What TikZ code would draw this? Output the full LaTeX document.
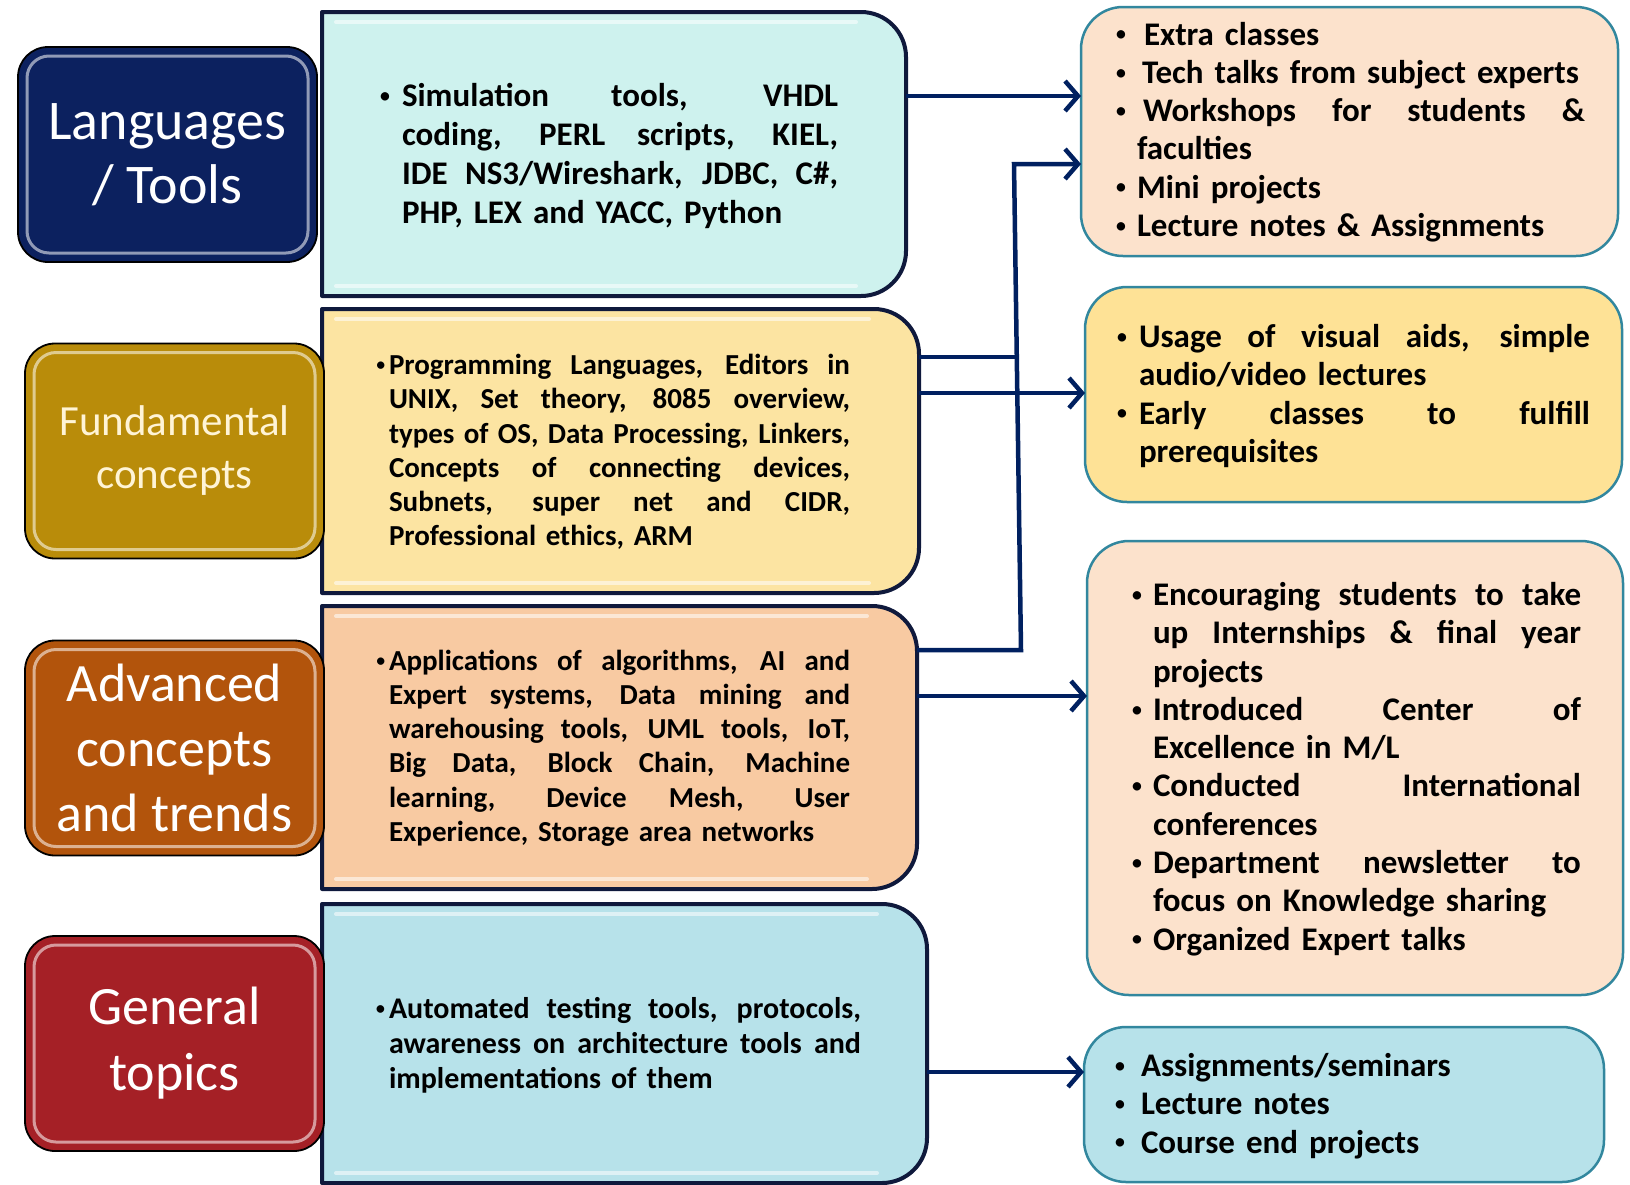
\documentclass[tikz,border=0pt]{standalone}
\usepackage{fontspec}
\setmainfont{Carlito}
\usetikzlibrary{arrows.meta,calc}
\definecolor{arrcol}{RGB}{0,32,96}
\definecolor{mbord}{RGB}{15,25,60}
\definecolor{mA}{RGB}{206,242,238}
\definecolor{mB}{RGB}{252,228,162}
\definecolor{mC}{RGB}{248,202,162}
\definecolor{mD}{RGB}{183,226,234}
\definecolor{rA}{RGB}{252,226,204}
\definecolor{rB}{RGB}{254,226,150}
\definecolor{rD}{RGB}{183,226,234}
\definecolor{rbord}{RGB}{50,135,158}
\definecolor{lA}{RGB}{12,33,95}
\definecolor{lB}{RGB}{185,140,10}
\definecolor{lC}{RGB}{178,84,12}
\definecolor{lD}{RGB}{165,32,38}
\definecolor{lBtext}{RGB}{255,244,214}
\newcommand{\jl}[1]{\leavevmode\hbox to \hsize{\spaceskip=0.25em plus 10em\relax #1}}
\newcommand{\dotb}{\raisebox{0.1em}{\scalebox{0.72}{\mdseries\textbullet}}}
\newcommand{\bul}[1]{\leavevmode\llap{\makebox[#1][l]{\dotb}}}
\newcommand{\hbul}{\leavevmode\llap{\dotb\hspace{3pt}}}
\newcommand{\MidShape}[2]{%
  \draw[mframe, fill=#2] (#1.north west) -- ([xshift=-45pt]#1.north east)
    arc[start angle=90,end angle=0,radius=45pt] -- ([yshift=45pt]#1.south east)
    arc[start angle=0,end angle=-90,radius=45pt] -- (#1.south west) -- cycle;
  \draw[gloss] ([shift={(14pt,-10pt)}]#1.north west) -- ([shift={(-50pt,-10pt)}]#1.north east);
  \draw[gloss] ([shift={(14pt,10pt)}]#1.south west) -- ([shift={(-50pt,10pt)}]#1.south east);}
\newcommand{\Ring}[1]{\draw[ring] ([shift={(9pt,-9pt)}]#1.north west) rectangle ([shift={(-9pt,9pt)}]#1.south east);}
\begin{document}
\begin{tikzpicture}[x=1pt,y=-1pt,
  every node/.style={inner sep=0pt, outer sep=0pt},
  mframe/.style={draw=mbord, line width=4pt, line join=round},
  gloss/.style={draw=white, opacity=0.55, line width=4pt, line cap=round},
  ring/.style={draw=white, opacity=0.55, line width=3pt, rounded corners=22pt},
  lbox/.style={draw=black, line width=1.8pt, rounded corners=30pt, minimum width=299pt, minimum height=215pt, align=center, text=white},
  rbox/.style={draw=rbord, line width=2.5pt, rounded corners=42pt},
  mtext/.style={align=left, font=\bfseries\fontsize{29}{34.3}\selectfont},
  rtext/.style={align=left, font=\bfseries\fontsize{33}{38.3}\selectfont},
  conn/.style={draw=arrcol, line width=4.5pt},
  arr/.style={conn, -{Straight Barb[length=13pt,width=30pt]}}]
\useasboundingbox (0,0) rectangle (1630,1184);

% middle boxes
\node[minimum width=584pt, minimum height=284pt] (M1) at (614,154) {};
\node[minimum width=597pt, minimum height=284pt] (M2) at (620.5,451) {};
\node[minimum width=595pt, minimum height=283pt] (M3) at (619.5,747.5) {};
\node[minimum width=605pt, minimum height=279pt] (M4) at (624.5,1043.5) {};
\MidShape{M1}{mA}
\MidShape{M2}{mB}
\MidShape{M3}{mC}
\MidShape{M4}{mD}

\node[mtext, text width=436pt, font=\bfseries\fontsize{33}{39}\selectfont] (M1t) at (620,156) {%
\jl{\bul{23pt}Simulation tools, VHDL}\\
\jl{coding, PERL scripts, KIEL,}\\
\jl{IDE NS3/Wireshark, JDBC, C\#,}\\
PHP, LEX and YACC, Python};

\node[mtext, text width=461pt] (M2t) at (619.5,452) {%
\jl{\hbul Programming Languages, Editors in}\\
\jl{UNIX, Set theory, 8085 overview,}\\
\jl{types of OS, Data Processing, Linkers,}\\
\jl{Concepts of connecting devices,}\\
\jl{Subnets, super net and CIDR,}\\
Professional ethics, ARM};

\node[mtext, text width=461pt] (M3t) at (619.5,748) {%
\jl{\hbul Applications of algorithms, AI and}\\
\jl{Expert systems, Data mining and}\\
\jl{warehousing tools, UML tools, IoT,}\\
\jl{Big Data, Block Chain, Machine}\\
\jl{learning, Device Mesh, User}\\
Experience, Storage area networks};

\node[mtext, text width=472pt, font=\bfseries\fontsize{30}{35}\selectfont] (M4t) at (625,1045) {%
\jl{\hbul Automated testing tools, protocols,}\\
\jl{awareness on architecture tools and}\\
implementations of them};

% left boxes
\node[lbox, fill=lA, font=\fontsize{56}{64}\selectfont] (L1) at (167.5,154.5) {Languages\\/ Tools};
\Ring{L1}
\node[lbox, fill=lB, text=lBtext, font=\fontsize{43}{53}\selectfont] (L2) at (174.5,451) {Fundamental\\concepts};
\Ring{L2}
\node[lbox, fill=lC, font=\fontsize{54}{65}\selectfont] (L3) at (174.5,748) {Advanced\\concepts\\and trends};
\Ring{L3}
\node[lbox, fill=lD, font=\fontsize{54}{66}\selectfont] (L4) at (174.5,1043.5) {General\\topics};
\Ring{L4}

% right boxes
\node[rbox, fill=rA, minimum width=537pt, minimum height=249pt] (R1) at (1349.5,131.5) {};
\node[rbox, fill=rB, minimum width=537pt, minimum height=215pt] (R2) at (1353.5,394.5) {};
\node[rbox, fill=rA, minimum width=536pt, minimum height=454pt] (R3) at (1355,768) {};
\node[rbox, fill=rD, minimum width=520pt, minimum height=155pt] (R4) at (1344,1104.5) {};

\node[rtext, text width=448pt] (R1t) at (1361,132) {%
\bul{22pt}\hspace*{7pt}Extra classes\\
\bul{22pt}\hspace*{5pt}Tech talks from subject experts\\
\jl{\bul{22pt}\hspace*{6pt}Workshops for students \&}\\
faculties\\
\bul{22pt}Mini projects\\
\bul{22pt}Lecture notes \& Assignments};

\node[rtext, text width=451pt] (R2t) at (1364.5,396) {%
\jl{\bul{23pt}Usage of visual aids, simple}\\
audio/video lectures\\
\jl{\bul{23pt}Early classes to fulfill}\\
prerequisites};

\node[rtext, text width=428pt] (R3t) at (1367,769) {%
\jl{\bul{22pt}Encouraging students to take}\\
\jl{up Internships \& final year}\\
projects\\
\jl{\bul{22pt}Introduced Center of}\\
Excellence in M/L\\
\jl{\bul{22pt}Conducted International}\\
conferences\\
\jl{\bul{22pt}Department newsletter to}\\
focus on Knowledge sharing\\
\bul{22pt}Organized Expert talks};

\node[rtext, text width=400pt, anchor=west] (R4t) at (1141,1106) {%
\bul{27pt}Assignments/seminars\\
\bul{27pt}Lecture notes\\
\bul{27pt}Course end projects};

% connectors
\coordinate (yA) at (0,96);
\coordinate (V1) at (1014,164);
\coordinate (V3) at (1018,357);
\coordinate (V2) at (1021,650);
\coordinate (yC) at (0,393);
\coordinate (yD) at (0,696);
\coordinate (yE) at (0,1072);
\draw[arr] (M1.east |- yA) -- (R1.west |- yA);
\draw[arr] (M3.east |- V2) -- (V2) -- (V1) -- (R1.west |- V1);
\draw[conn] (M2.east |- V3) -- (V3);
\draw[arr] (M2.east |- yC) -- (R2.west |- yC);
\draw[arr] (M3.east |- yD) -- (R3.west |- yD);
\draw[arr] (M4.east |- yE) -- (R4.west |- yE);
\end{tikzpicture}
\end{document}
